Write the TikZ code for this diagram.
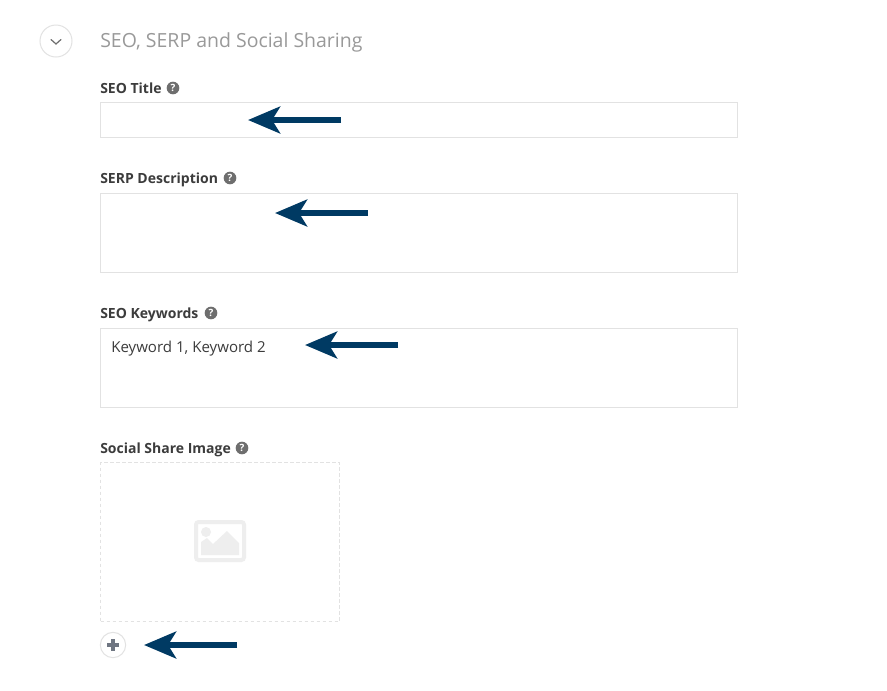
\documentclass[tikz,border=0pt]{standalone}
\usepackage{fontspec}
\setmainfont{Open Sans}
\usetikzlibrary{arrows.meta}

\definecolor{arrowblue}{HTML}{003A63}
\definecolor{fieldline}{HTML}{E2E2E2}
\definecolor{labelgray}{HTML}{3C3C3C}
\definecolor{headgray}{HTML}{999999}
\definecolor{helpgray}{HTML}{6E6E6E}
\definecolor{plusgray}{HTML}{6F7682}
\definecolor{iconpale}{HTML}{EEEEEE}

\tikzset{
  fieldbox/.style={draw=fieldline, line width=0.75pt, inner sep=0pt, minimum width=477.75pt},
  fieldlabel/.style={anchor=base west, inner sep=0pt, text=labelgray, font=\fontsize{10.5}{12}\selectfont\bfseries},
  helpdot/.style={circle, fill=helpgray, inner sep=0pt, minimum size=9.5pt, text=white,
    font=\fontsize{7.5}{7.5}\selectfont\bfseries},
  pointer/.style={draw=arrowblue, line width=4.5pt,
    -{Stealth[length=24pt, width=20pt, inset=6pt, fill=arrowblue]}},
}

\begin{document}
\begin{tikzpicture}[x=0.75pt, y=-0.75pt]

  \useasboundingbox [fill=white] (0, 0) rectangle (887, 690);

  % Section heading.
  \node [circle, draw=fieldline, line width=0.75pt, minimum size=24pt, inner sep=0pt]
        (toggle) at (56, 41) {};
  \draw [helpgray, line width=0.9pt, line cap=round] (51, 39.5) -- (56, 44) -- (61, 39.5);
  \node [anchor=base west, inner sep=0pt, text=headgray,
         font=\fontsize{14.6}{18}\selectfont]
        (heading) at (100, 47) {SEO, SERP and Social Sharing};

  % Text fields.
  \node [fieldlabel] (seolabel) at (100, 93) {SEO Title};
  \node [helpdot] (seohelp) at (173, 88) {?};
  \node [fieldbox, minimum height=26.25pt] (seofield) at (418.5, 120) {};

  \node [fieldlabel] (serplabel) at (100, 183) {SERP Description};
  \node [helpdot] (serphelp) at (230, 178) {?};
  \node [fieldbox, minimum height=59.25pt] (serpfield) at (418.5, 233) {};

  \node [fieldlabel] (keylabel) at (100, 318) {SEO Keywords};
  \node [helpdot] (keyhelp) at (211, 313) {?};
  \node [fieldbox, minimum height=59.25pt] (keyfield) at (418.5, 368) {};
  \node [anchor=base west, inner sep=0pt, text=labelgray, font=\fontsize{11.3}{13}\selectfont]
        (keytext) at (111, 352) {Keyword 1, Keyword 2};

  % Image picker.
  \node [fieldlabel] (imagelabel) at (100, 453) {Social Share Image};
  \node [helpdot] (imagehelp) at (242, 448) {?};
  \node [draw=fieldline, dash pattern=on 2.6pt off 1.9pt, line width=0.75pt, inner sep=0pt,
         minimum width=179.25pt, minimum height=119.25pt] (imagefield) at (220, 542) {};

  \draw [iconpale, line width=3pt, rounded corners=2pt] (196, 522) rectangle (244, 560);
  \fill [iconpale] (206, 532) circle (5);
  \fill [iconpale] (201, 555) -- (201, 542) -- (207, 538) -- (213, 544)
        -- (227, 531) -- (239, 543) -- (239, 555) -- cycle;

  \node [circle, draw=fieldline, line width=0.75pt, minimum size=19pt, inner sep=0pt]
        (addbutton) at (113, 645) {};
  \draw [plusgray, line width=2.4pt] (107, 645) -- (119, 645);
  \draw [plusgray, line width=2.4pt] (113, 639) -- (113, 651);

  % Arrows pointing at each field.
  \coordinate (seotail) at (341, 120);
  \coordinate (seotip) at (248, 120);
  \draw [pointer] (seotail) -- (seotip);

  \coordinate (serptail) at (368, 213);
  \coordinate (serptip) at (275, 213);
  \draw [pointer] (serptail) -- (serptip);

  \coordinate (keytail) at (398, 345);
  \coordinate (keytip) at (305, 345);
  \draw [pointer] (keytail) -- (keytip);

  \coordinate (addtail) at (237, 645);
  \coordinate (addtip) at (144, 645);
  \draw [pointer] (addtail) -- (addtip);

\end{tikzpicture}
\end{document}
